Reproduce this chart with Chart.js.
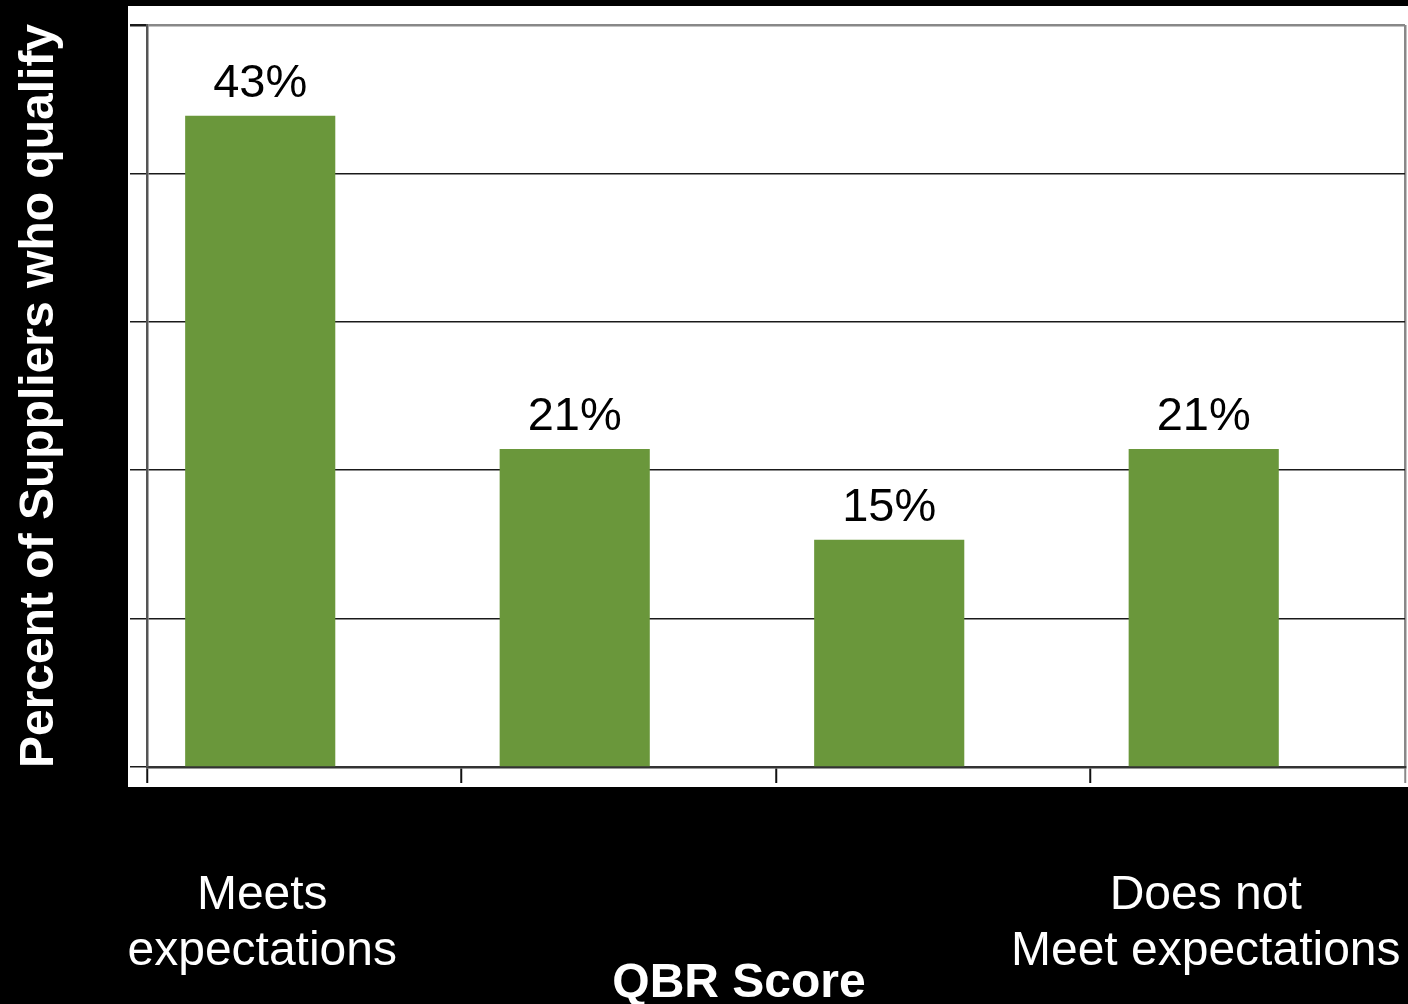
<!DOCTYPE html>
<html>
<head>
<meta charset="utf-8">
<script src="https://cdn.jsdelivr.net/npm/chart.js"></script>
<style>
  html, body { margin: 0; padding: 0; background: #000; }
  canvas { display: block; }
</style>
</head>
<body>
<canvas id="chart" width="1408" height="1004"></canvas>
<script>
const CATEGORIES = [['Meets', 'expectations'], '', '', ['Does not', 'Meet expectations']];
const SHARE = [43, 21, 15, 21];
const SHARE_LABELS = ['43%', '21%', '15%', '21%'];
const Y_MAX = 49;
const Y_STEPS = 5;
const Y_TITLE = 'Percent of Suppliers who qualify';
const X_TITLE = 'QBR Score';

const FONT = "Arial, 'Liberation Sans', sans-serif";
const GREEN = '#6a973b';

// white plot panel on the black slide background
const panel = {
  id: 'panel',
  beforeDraw(chart) {
    const ctx = chart.ctx;
    ctx.save();
    ctx.fillStyle = '#000';
    ctx.fillRect(0, 0, chart.width, chart.height);
    ctx.fillStyle = '#fff';
    ctx.fillRect(128, 6, chart.width - 128, 781);
    ctx.restore();
  }
};

// percent labels above the bars
const valueLabels = {
  id: 'valueLabels',
  afterDatasetsDraw(chart) {
    const ctx = chart.ctx;
    const meta = chart.getDatasetMeta(0);
    ctx.save();
    ctx.font = '47px ' + FONT;
    ctx.fillStyle = '#000';
    ctx.textAlign = 'center';
    ctx.textBaseline = 'alphabetic';
    meta.data.forEach((bar, i) => {
      ctx.fillText(SHARE_LABELS[i], bar.x, bar.y - 19);
    });
    ctx.restore();
  }
};

// x axis title sits a bit left of the plot centre
const xTitle = {
  id: 'xTitle',
  afterDraw(chart) {
    const ctx = chart.ctx;
    const a = chart.chartArea;
    ctx.save();
    ctx.font = 'bold 48px ' + FONT;
    ctx.fillStyle = '#fff';
    ctx.textAlign = 'center';
    ctx.textBaseline = 'alphabetic';
    ctx.fillText(X_TITLE, (a.left + a.right) / 2 - 37, 997);
    ctx.restore();
  }
};

new Chart(document.getElementById('chart'), {
  type: 'bar',
  data: {
    labels: CATEGORIES,
    datasets: [
      {
        label: 'Suppliers',
        data: SHARE,
        backgroundColor: GREEN,
        borderWidth: 0,
        categoryPercentage: 0.56,
        barPercentage: 1.705
      },
      {
        // empty second series, keeps the bars left of the category centre
        label: '',
        data: SHARE.map(() => null),
        backgroundColor: GREEN,
        categoryPercentage: 0.56,
        barPercentage: 1.705
      }
    ]
  },
  options: {
    responsive: false,
    devicePixelRatio: 1,
    animation: false,
    layout: { padding: { top: 25, right: 3, bottom: 0, left: 0 } },
    plugins: {
      legend: { display: false },
      tooltip: { enabled: false }
    },
    scales: {
      x: {
        afterFit: s => {
          s.height = 237;
          s.paddingLeft = 0;
          s.paddingRight = 0;
        },
        grid: {
          offset: true,
          drawOnChartArea: true,
          // only the closing line on the right is visible inside the plot
          color: c => c.index === undefined ? '#888' : 'rgba(0,0,0,0)',
          lineWidth: 2.5,
          tickColor: c => c.index === undefined ? '#888' : '#111',
          tickWidth: 2,
          tickLength: 16
        },
        border: { color: '#333', width: 2.5 },
        ticks: {
          color: '#fff',
          font: { family: FONT, size: 48, lineHeight: 1.1667 },
          padding: 85,
          labelOffset: -42,
          maxRotation: 0,
          autoSkip: false
        }
      },
      y: {
        min: 0,
        max: Y_MAX,
        afterFit: s => {
          s.width = 147;
          s.paddingTop = 0;
          s.paddingBottom = 0;
        },
        afterBuildTicks: s => {
          s.ticks = [];
          for (let i = 0; i <= Y_STEPS; i++) s.ticks.push({ value: Y_MAX * i / Y_STEPS });
        },
        grid: {
          color: c => c.index === Y_STEPS ? '#888' : '#1a1a1a',
          lineWidth: c => c.index === Y_STEPS ? 2.5 : 1.5,
          tickColor: '#1a1a1a',
          tickLength: 17
        },
        border: { color: '#555', width: 2.5 },
        ticks: { display: false },
        title: {
          display: true,
          text: Y_TITLE,
          color: '#fff',
          font: { family: FONT, size: 48, weight: 'bold' },
          padding: { top: 11, bottom: 0 }
        }
      }
    }
  },
  plugins: [panel, valueLabels, xTitle]
});
</script>
</body>
</html>
